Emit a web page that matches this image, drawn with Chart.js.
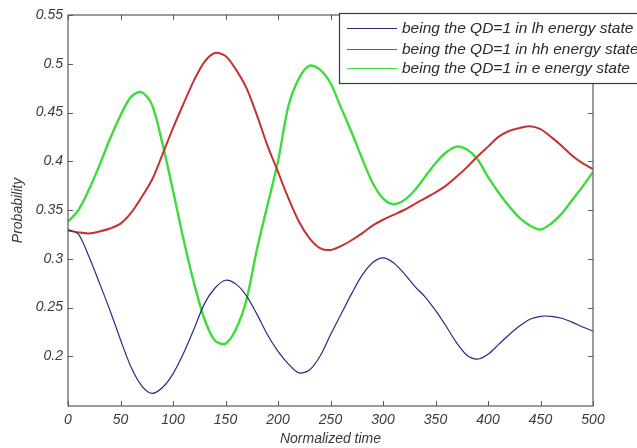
<!DOCTYPE html>
<html>
<head>
<meta charset="utf-8">
<script src="https://cdn.jsdelivr.net/npm/chart.js@4"></script>
<style>
  html, body { margin: 0; padding: 0; background: #fff; }
  #wrap { width: 637px; height: 448px; }
</style>
</head>
<body>
<div id="wrap"><canvas id="probChart" width="637" height="448"></canvas></div>
<script>
// Normalized time samples
const times = [0, 10, 20, 30, 40, 50, 60, 70, 80, 90, 100, 110, 120, 130, 140, 150, 160, 170, 180, 190,
  200, 210, 220, 230, 240, 250, 260, 270, 280, 290, 300, 310, 320, 330, 340, 350, 360, 370, 380, 390,
  400, 410, 420, 430, 440, 450, 460, 470, 480, 490, 500];

// Probability of QD=1 in each energy state
const lhState = [0.330, 0.325, 0.302, 0.275, 0.247, 0.217, 0.189, 0.170, 0.162, 0.168, 0.182, 0.203, 0.228,
  0.254, 0.270, 0.278, 0.274, 0.262, 0.243, 0.222, 0.205, 0.192, 0.183, 0.186, 0.200, 0.222, 0.243, 0.264,
  0.283, 0.296, 0.301, 0.296, 0.285, 0.272, 0.261, 0.247, 0.231, 0.214, 0.201, 0.197, 0.202, 0.212, 0.222,
  0.231, 0.238, 0.241, 0.241, 0.239, 0.235, 0.230, 0.226];
const hhState = [0.329, 0.327, 0.326, 0.328, 0.331, 0.336, 0.347, 0.363, 0.381, 0.407, 0.434, 0.459, 0.483,
  0.502, 0.511, 0.508, 0.494, 0.475, 0.447, 0.416, 0.389, 0.362, 0.338, 0.321, 0.311, 0.309, 0.313, 0.319,
  0.326, 0.334, 0.340, 0.345, 0.350, 0.356, 0.362, 0.368, 0.375, 0.384, 0.394, 0.405, 0.415, 0.425, 0.431,
  0.434, 0.436, 0.433, 0.425, 0.416, 0.406, 0.398, 0.392];
const eState = [0.338, 0.350, 0.371, 0.396, 0.423, 0.447, 0.466, 0.471, 0.458, 0.418, 0.370, 0.320, 0.275,
  0.238, 0.216, 0.213, 0.228, 0.258, 0.310, 0.355, 0.400, 0.457, 0.485, 0.498, 0.494, 0.480, 0.455, 0.430,
  0.403, 0.378, 0.362, 0.356, 0.360, 0.370, 0.384, 0.398, 0.409, 0.415, 0.412, 0.402, 0.384, 0.368, 0.354,
  0.342, 0.334, 0.330, 0.336, 0.346, 0.360, 0.374, 0.389];

const xTicks = [0, 50, 100, 150, 200, 250, 300, 350, 400, 450, 500];
const yTicks = [0.2, 0.25, 0.3, 0.35, 0.4, 0.45, 0.5, 0.55];
const seriesNames = [
  'being the QD=1 in lh energy state',
  'being the QD=1 in hh energy state',
  'being the QD=1 in e energy state'
];
const seriesColors = ['#2a2a86', '#c43232', '#3ddc3d'];
const seriesWidths = [1.2, 2, 2.4];

const textColor = '#3a3a3a';
const fontFamily = '"Liberation Sans", Arial, sans-serif';

function toPoints(values) {
  return times.map((t, i) => ({ x: t, y: values[i] }));
}

// Frame, inward ticks, axis titles and the legend box, MATLAB style
const matlabDecor = {
  id: 'matlabDecor',
  afterDraw(chart) {
    const { ctx, chartArea: a, scales } = chart;
    ctx.save();
    ctx.strokeStyle = '#5a5a5a';
    ctx.lineWidth = 1.2;
    ctx.strokeRect(a.left, a.top, a.right - a.left, a.bottom - a.top);

    ctx.lineWidth = 1;
    ctx.beginPath();
    xTicks.forEach(v => {
      const px = Math.round(scales.x.getPixelForValue(v)) + 0.5;
      ctx.moveTo(px, a.bottom); ctx.lineTo(px, a.bottom - 5);
      ctx.moveTo(px, a.top); ctx.lineTo(px, a.top + 5);
    });
    yTicks.forEach(v => {
      const py = Math.round(scales.y.getPixelForValue(v)) + 0.5;
      ctx.moveTo(a.left, py); ctx.lineTo(a.left + 5, py);
      ctx.moveTo(a.right, py); ctx.lineTo(a.right - 5, py);
    });
    ctx.stroke();

    // axis titles
    ctx.fillStyle = textColor;
    ctx.font = 'italic 14px ' + fontFamily;
    ctx.textAlign = 'center';
    ctx.textBaseline = 'middle';
    ctx.fillText('Normalized time', (a.left + a.right) / 2, 439);
    ctx.save();
    ctx.translate(18, (a.top + a.bottom) / 2);
    ctx.rotate(-Math.PI / 2);
    ctx.fillText('Probability', 0, 0);
    ctx.restore();

    // legend
    const lx = 339, ly = 13;
    ctx.fillStyle = '#fff';
    ctx.fillRect(lx, ly, 320, 70);
    ctx.strokeStyle = '#3a3a3a';
    ctx.lineWidth = 1.2;
    ctx.strokeRect(lx + 0.5, ly + 0.5, 320, 70);
    const rows = [28, 49, 68];
    ctx.font = 'italic 15.5px ' + fontFamily;
    ctx.textAlign = 'left';
    seriesNames.forEach((name, i) => {
      ctx.strokeStyle = seriesColors[i];
      ctx.lineWidth = 1;
      ctx.beginPath();
      ctx.moveTo(347, rows[i] + 0.5);
      ctx.lineTo(397, rows[i] + 0.5);
      ctx.stroke();
      ctx.fillStyle = '#2a2a2a';
      ctx.fillText(name, 402, rows[i] + 1);
    });
    ctx.restore();
  }
};

new Chart(document.getElementById('probChart'), {
  type: 'line',
  data: {
    datasets: [lhState, hhState, eState].map((vals, i) => ({
      label: seriesNames[i],
      data: toPoints(vals),
      borderColor: seriesColors[i],
      borderWidth: seriesWidths[i],
      pointRadius: 0,
      tension: 0.3,
      fill: false
    }))
  },
  options: {
    responsive: false,
    animation: false,
    layout: { padding: { top: 15, right: 44, left: 0, bottom: 0 } },
    plugins: { legend: { display: false }, tooltip: { enabled: false } },
    scales: {
      x: {
        type: 'linear',
        min: 0,
        max: 500,
        afterBuildTicks: s => { s.ticks = xTicks.map(v => ({ value: v })); },
        afterFit: s => { s.height = 42; },
        grid: { display: false, drawTicks: false, tickLength: 0 },
        border: { display: false },
        ticks: {
          padding: 6,
          color: textColor,
          font: { family: fontFamily, size: 14, style: 'italic' },
          maxRotation: 0
        }
      },
      y: {
        type: 'linear',
        min: 0.149,
        max: 0.55,
        afterBuildTicks: s => { s.ticks = yTicks.map(v => ({ value: v })); },
        afterFit: s => { s.width = 68; },
        grid: { display: false, drawTicks: false, tickLength: 0 },
        border: { display: false },
        ticks: {
          padding: 5,
          color: textColor,
          font: { family: fontFamily, size: 14, style: 'italic' },
          callback: v => String(+v.toFixed(2))
        }
      }
    }
  },
  plugins: [matlabDecor]
});
</script>
</body>
</html>
